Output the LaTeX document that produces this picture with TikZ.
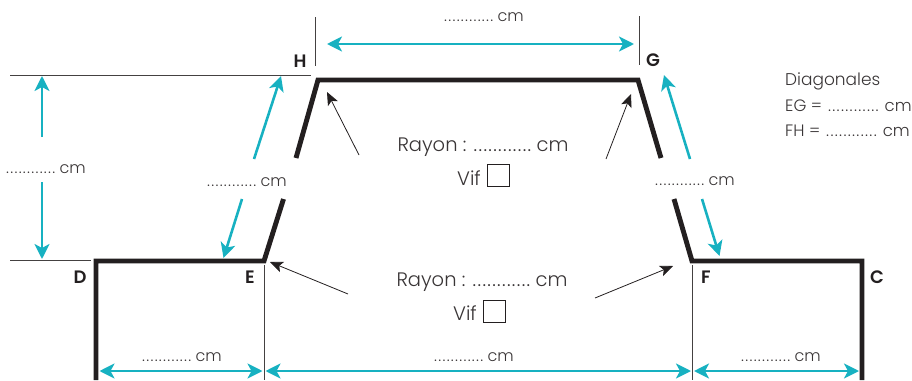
\documentclass[tikz,border=0pt]{standalone}
\usepackage{fontspec}
\setmainfont{Poppins}[UprightFont=* Light,BoldFont=* SemiBold]
\usetikzlibrary{arrows.meta}
\definecolor{teal1}{HTML}{17B1C1}
\definecolor{ink}{HTML}{231F20}
\tikzset{
 x=1pt,y=-1pt,
 thick outline/.style={draw=ink,line width=4.9pt,miter limit=10},
 thinline/.style={draw=ink!85,line width=1pt},
 dim/.style={draw=teal1,line width=2.6pt,-{Stealth[length=15pt,width=15pt,inset=4pt]},shorten >=0pt},
 dimb/.style={draw=teal1,line width=2.6pt,{Stealth[length=15pt,width=15pt,inset=4pt]}-{Stealth[length=15pt,width=15pt,inset=4pt]}},
 pointer/.style={draw=ink,line width=.8pt,-{Stealth[length=13pt,width=11pt,inset=3pt]}},
 lab/.style={font=\fontsize{16}{19}\selectfont,text=ink!90,inner sep=0pt},
 diag/.style={font=\fontsize{16.5}{20}\selectfont,text=ink!90,inner sep=0pt,anchor=west},
 big/.style={font=\fontsize{19.5}{23}\selectfont,text=ink!90,inner sep=0pt},
 letter/.style={font=\fontsize{18}{21}\selectfont\bfseries,text=ink,inner sep=0pt},
 tick/.style={draw=ink,line width=.9pt,minimum width=#1,minimum height=#1,inner sep=0pt}
}
\newcommand{\sdots}{{\addfontfeature{LetterSpace=8}............}}
\newcommand{\bdots}{{\addfontfeature{LetterSpace=7}............}}
\newcommand{\blank}{\sdots\ cm}
\begin{document}
\begin{tikzpicture}
\useasboundingbox (0,0) rectangle (912,380);
% outline points
\coordinate (Dd) at (96,380); \coordinate (D) at (96,261); \coordinate (E) at (264,261);
\coordinate (Ea) at (283.5,199); \coordinate (Eb) at (296,158); \coordinate (H) at (318,80);
\coordinate (G) at (638,80); \coordinate (Fb) at (661,158); \coordinate (Fa) at (674,199);
\coordinate (F) at (692,261); \coordinate (C) at (862,261); \coordinate (Cd) at (862,380);
\draw[thick outline] (Dd) -- (D) -- (E) -- (Ea);
\draw[thick outline] (Eb) -- (H) -- (G) -- (Fb);
\draw[thick outline] (Fa) -- (F) -- (C) -- (Cd);
% thin guide lines
\coordinate (t1) at (10,75); \coordinate (t2) at (311,75);
\coordinate (b1) at (10,260); \coordinate (b2) at (91,260);
\coordinate (h1) at (315,17); \coordinate (h2) at (315,66);
\coordinate (g1) at (639,16); \coordinate (g2) at (639,65);
\coordinate (e1) at (264,265); \coordinate (e2) at (264,380);
\coordinate (f1) at (692,265); \coordinate (f2) at (692,380);
\draw[thinline] (t1) -- (t2);
\draw[thinline] (b1) -- (b2);
\draw[thinline] (h1) -- (h2);
\draw[thinline] (g1) -- (g2);
\draw[thinline] (e1) -- (e2);
\draw[thinline] (f1) -- (f2);
% teal arrows
\coordinate (a1) at (327,44); \coordinate (a2) at (634,44);
\draw[dimb] (a1) -- (a2);
\coordinate (v1) at (42,137); \coordinate (v2) at (42,76);
\coordinate (v3) at (42,182); \coordinate (v4) at (42,259);
\draw[dim] (v1) -- (v2);
\draw[dim] (v3) -- (v4);
\coordinate (l1) at (254,159); \coordinate (l2) at (281,76);
\coordinate (l3) at (242,199); \coordinate (l4) at (223.5,258);
\draw[dim] (l1) -- (l2);
\draw[dim] (l3) -- (l4);
\coordinate (r1) at (690,159); \coordinate (r2) at (664,75);
\coordinate (r3) at (702,199); \coordinate (r4) at (719.5,256);
\draw[dim] (r1) -- (r2);
\draw[dim] (r3) -- (r4);
\coordinate (c1) at (99.5,371); \coordinate (c2) at (262.5,371);
\coordinate (c3) at (265.5,371); \coordinate (c4) at (691,371);
\coordinate (c5) at (694,371); \coordinate (c6) at (859,371);
\draw[dimb] (c1) -- (c2);
\draw[dimb] (c3) -- (c4);
\draw[dimb] (c5) -- (c6);
% pointers
\coordinate (p1) at (359,155); \coordinate (p2) at (327,92);
\coordinate (p3) at (606,159); \coordinate (p4) at (631,94);
\coordinate (p5) at (348,294); \coordinate (p6) at (270,262);
\coordinate (p7) at (595,298); \coordinate (p8) at (673,266);
\draw[pointer] (p1) -- (p2);
\draw[pointer] (p3) -- (p4);
\draw[pointer] (p5) -- (p6);
\draw[pointer] (p7) -- (p8);
% letters
\node[letter] (lH) at (300,61) {H};
\node[letter] (lG) at (653,60) {G};
\node[letter] (lD) at (80,277) {D};
\node[letter] (lE) at (250,277) {E};
\node[letter] (lF) at (706,277) {F};
\node[letter] (lC) at (877,277) {C};
% dimension labels
\node[lab] (d1) at (484,17.5) {\blank};
\node[lab] (d2) at (46,169.5) {\blank};
\node[lab] (d3) at (247,182.5) {\blank};
\node[lab] (d4) at (695,181.5) {\blank};
\node[lab] (d5) at (182,357) {\blank};
\node[lab] (d6) at (474,357) {\blank};
\node[lab] (d7) at (781,357) {\blank};
% radius labels
\node[big] (r1t) at (483,147.5) {Rayon : \bdots\ cm};
\node[big] (v1t) at (469,178) {Vif};
\node[tick=21.5pt] (b1t) at (498.5,175.5) {};
\node[big] (r2t) at (482,282.5) {Rayon : \bdots\ cm};
\node[big] (v2t) at (465,313) {Vif};
\node[tick=22pt] (b2t) at (494.5,311) {};
% diagonals
\node[diag,font=\fontsize{17}{20}\selectfont] (dg) at (785,81) {Diagonales};
\node[diag] (eg) at (785,105.5) {EG =\hspace{1.5pt} \sdots\hspace{1.5pt}\ cm};
\node[diag] (fh) at (785,130.5) {FH =\hspace{1.5pt} \sdots\hspace{1.5pt}\ cm};
\end{tikzpicture}
\end{document}
